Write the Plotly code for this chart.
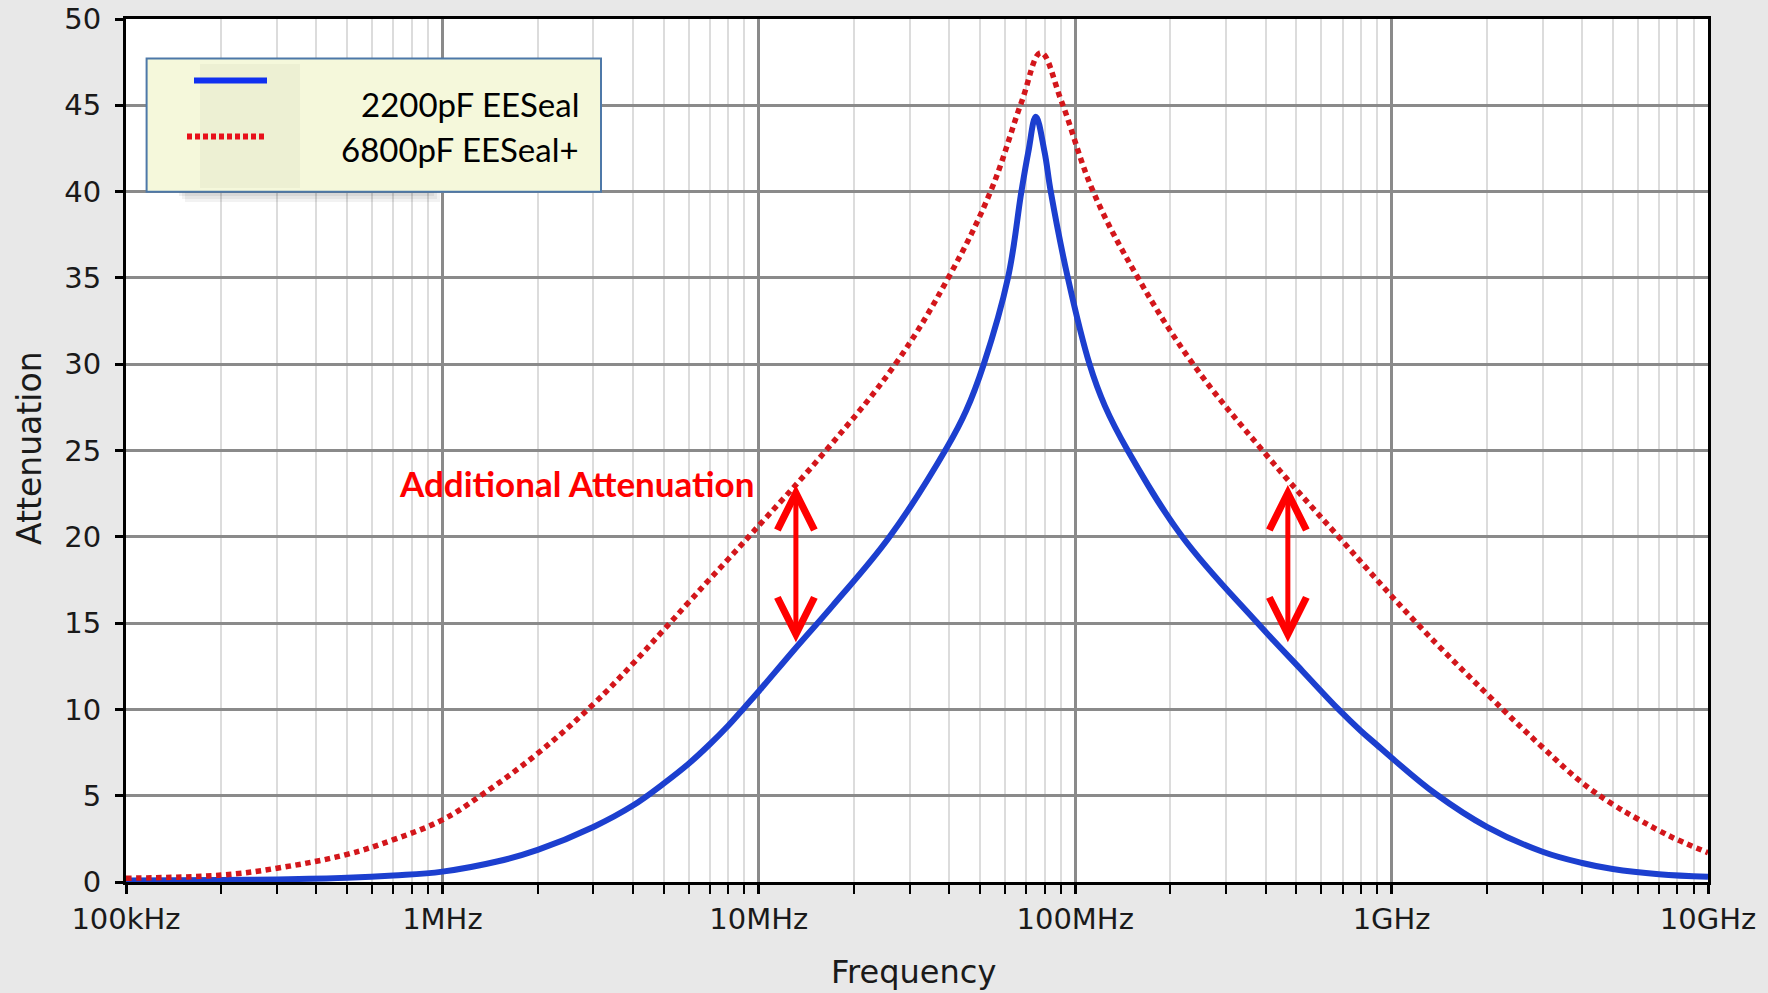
import math
import plotly.graph_objects as go

# ---------------- data ----------------
freq_2200 = [1e5, 2e5, 3e5, 5e5, 7e5, 1e6, 1.5e6, 2e6, 3e6, 4e6, 5e6, 6e6, 7e6, 8e6,
             9e6, 10e6, 13e6, 17.1e6, 25.9e6, 39.4e6, 45.2e6, 51.4e6, 61.3e6, 67.6e6,
             71.1e6, 75.1e6, 80e6, 83.7e6, 94.8e6, 111e6, 124e6, 146.6e6, 218e6,
             377e6, 524e6, 680e6, 800e6, 900e6, 1e9, 1.38e9, 2e9, 3e9, 4e9, 5e9,
             7e9, 1e10]
att_2200 = [0.08, 0.11, 0.15, 0.25, 0.38, 0.6, 1.2, 1.86, 3.19, 4.43, 5.7, 6.85, 7.98, 9.05,
            10.1, 11.05, 13.5, 16.0, 20.0, 25.2, 27.3, 30.0, 35.0, 40.0,
            42.3, 44.33, 42.3, 40.0, 35.0, 30.0, 27.6, 25.0, 20.0,
            15.0, 12.2, 10.0, 8.75, 7.93, 7.2, 5.1, 3.2, 1.75, 1.1, 0.75,
            0.45, 0.3]

freq_6800 = [1e5, 2e5, 3e5, 5e5, 7e5, 1e6, 1.32e6, 2e6, 3e6, 4e6, 5e6, 6e6, 7e6, 8e6,
             9.5e6, 16.3e6, 27e6, 39.7e6, 54e6, 67.7e6, 77.9e6, 90.6e6, 114e6,
             158e6, 236e6, 391e6, 680e6, 1.2e9, 2e9, 3e9, 4e9, 5e9,
             6e9, 7e9, 8e9, 1e10]
att_6800 = [0.22, 0.40, 0.80, 1.6, 2.45, 3.6, 5.0, 7.45, 10.3, 12.65, 14.6, 16.2, 17.55, 18.7,
            20.2, 25.0, 30.0, 35.0, 40.0, 45.2, 48.05, 45.2, 40.0,
            35.0, 30.0, 25.0, 20.0, 15.0, 10.9, 7.8, 5.75, 4.5,
            3.65, 2.98, 2.45, 1.7]

series_names = ["2200pF EESeal", "6800pF EESeal+"]

x_tick_vals = [1e5, 1e6, 1e7, 1e8, 1e9, 1e10]
x_tick_text = ["100kHz", "1MHz", "10MHz", "100MHz", "1GHz", "10GHz"]
y_tick_vals = [0, 5, 10, 15, 20, 25, 30, 35, 40, 45, 50]
minor_mult = [2, 3, 4, 5, 6, 7, 8, 9]

# arrows: (frequency, low dB, high dB)
arrow_left = (13.1e6, 13.8, 23.0)
arrow_right = (470e6, 13.8, 23.0)
note_text = "Additional Attenuation"

# ---------------- figure ----------------
W, H = 1768, 993
BLUE = "#1C3FCF"
RED = "#D3161B"
ARROW = "#FF0000"

minor_vals = [m * d for d in x_tick_vals[:-1] for m in minor_mult]

fig = go.Figure()
fig.add_trace(go.Scatter(x=freq_2200, y=att_2200, mode="lines", name=series_names[0],
                         line=dict(color=BLUE, width=6, shape="spline", smoothing=1.1),
                         showlegend=False))
fig.add_trace(go.Scatter(x=freq_6800, y=att_6800, mode="lines", name=series_names[1],
                         line=dict(color=RED, width=5.5, dash="5.5px,4.5px", shape="spline",
                                   smoothing=1.1),
                         showlegend=False))

tick_font = dict(family="DejaVu Sans", size=29, color="#1a1a1a")

fig.update_layout(
    width=W, height=H,
    margin=dict(l=126, r=60, t=19, b=111, autoexpand=False),
    paper_bgcolor="#E8E8E8",
    plot_bgcolor="#FFFFFF",
    xaxis=dict(type="log", range=[5, 10], tickvals=x_tick_vals, ticktext=x_tick_text,
               tickfont=tick_font, showgrid=True, gridcolor="#8A8A8A", gridwidth=2.5,
               showline=True, linecolor="#000000", linewidth=3, mirror=True,
               ticks="outside", ticklen=9, tickwidth=2.5, tickcolor="#000000",
               ticklabelstandoff=0, zeroline=False,
               minor=dict(tickvals=minor_vals, showgrid=True, gridcolor="#DCDCDC",
                          gridwidth=2, ticks="outside", ticklen=9, tickwidth=2,
                          tickcolor="#000000")),
    yaxis=dict(range=[0, 50], tickvals=y_tick_vals, tickfont=tick_font,
               showgrid=True, gridcolor="#8A8A8A", gridwidth=2.5,
               showline=True, linecolor="#000000", linewidth=3, mirror=True,
               ticks="outside", ticklen=8, tickwidth=2.5, tickcolor="#000000",
               ticklabelstandoff=8, zeroline=False),
)

# axis titles
fig.add_annotation(text="Frequency", xref="paper", yref="paper", x=0.4975, y=-0.104,
                   xanchor="center", yanchor="middle", showarrow=False,
                   font=dict(family="DejaVu Sans", size=32, color="#1a1a1a"))
fig.add_annotation(text="Attenuation", xref="paper", yref="paper", x=-0.0607, y=0.503,
                   xanchor="center", yanchor="middle", textangle=-90, showarrow=False,
                   font=dict(family="DejaVu Sans", size=33, color="#1a1a1a"))

# double arrows
for (f, lo, hi) in (arrow_left, arrow_right):
    lx = math.log10(f)
    fig.add_annotation(x=lx, y=hi, ax=lx, ay=lo, xref="x", yref="y", axref="x", ayref="y",
                       text="", showarrow=True, arrowside="end+start",
                       arrowhead=5, startarrowhead=5, arrowsize=1.45, startarrowsize=1.45,
                       arrowwidth=5, arrowcolor=ARROW)

fig.add_annotation(text=note_text, x=6.99, y=23.1, xref="x", yref="y",
                   xanchor="right", yanchor="middle", showarrow=False,
                   font=dict(family="Lato", size=35, color=ARROW, weight="bold"))

# ---------------- custom legend box ----------------
def px(X):
    return (X - 126) / 1582.0


def py(Y):
    return (882 - Y) / 863.0

# soft shadow
for off, op in ((10, 0.05), (7, 0.05), (4, 0.06)):
    fig.add_shape(type="rect", xref="paper", yref="paper",
                  x0=px(175 + off), x1=px(430 + off), y0=py(192 + off), y1=py(150),
                  fillcolor="rgba(0,0,0,%s)" % op, line=dict(width=0), layer="above")
fig.add_shape(type="rect", xref="paper", yref="paper",
              x0=px(146.6), x1=px(601), y0=py(191.7), y1=py(58.6),
              fillcolor="#F5F8DB", line=dict(color="#4D78A8", width=2), layer="above")
# faint smudge behind symbols
fig.add_shape(type="rect", xref="paper", yref="paper",
              x0=px(200), x1=px(300), y0=py(188), y1=py(64),
              fillcolor="rgba(120,120,80,0.06)", line=dict(width=0), layer="above")
fig.add_shape(type="line", xref="paper", yref="paper",
              x0=px(194), x1=px(267), y0=py(80.5), y1=py(80.5),
              line=dict(color="#1030F0", width=6), layer="above")
fig.add_shape(type="line", xref="paper", yref="paper",
              x0=px(187), x1=px(267), y0=py(136.5), y1=py(136.5),
              line=dict(color="#E8101A", width=6, dash="5px,3px"), layer="above")
for name, yy in ((series_names[0], 103.7), (series_names[1], 148.8)):
    fig.add_annotation(text=name, xref="paper", yref="paper", x=px(581), y=py(yy),
                       xanchor="right", yanchor="middle", showarrow=False,
                       font=dict(family="Lato", size=33, color="#000000"))

fig.write_html("out.html",
               config={"displayModeBar": False},
               post_script="document.body.style.margin='0px';"
                           "document.body.style.overflow='hidden';")
